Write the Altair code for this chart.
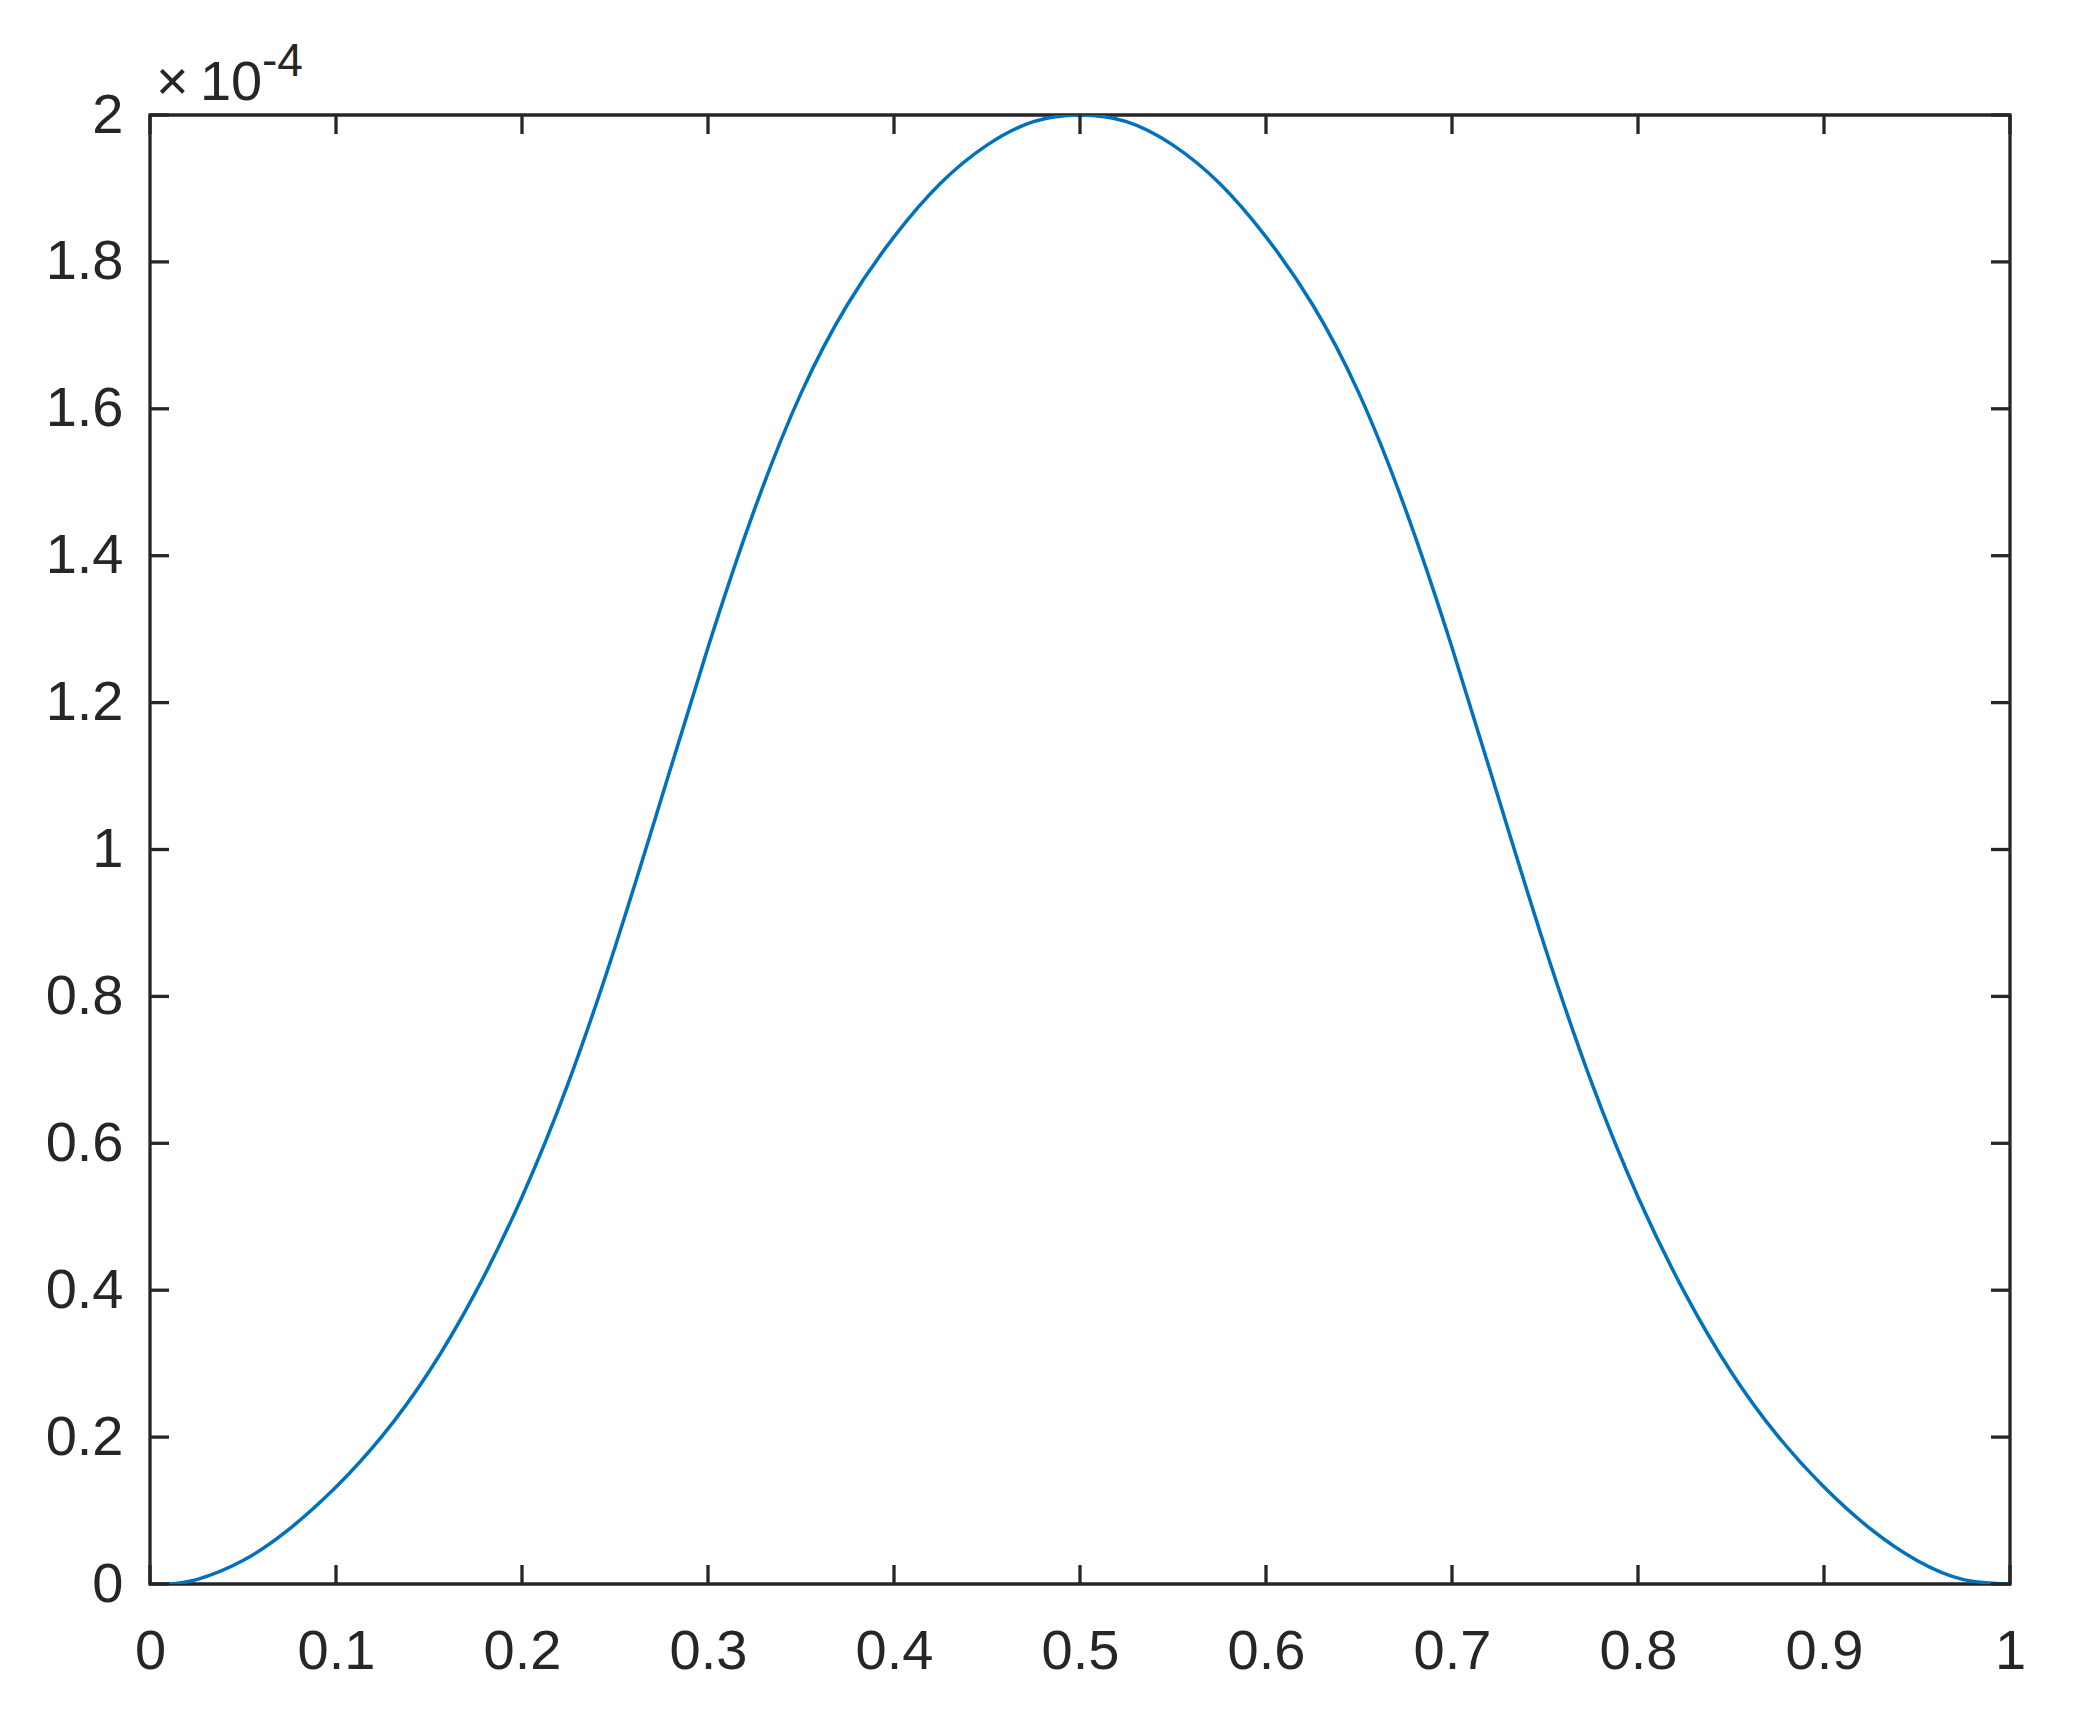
import altair as alt
import pandas as pd

# curve values (y in units of 1e-4)
x_vals = [0.01, 0.025, 0.05, 0.075, 0.1, 0.125, 0.15, 0.175, 0.2, 0.225, 0.25,
          0.275, 0.3, 0.325, 0.35, 0.375, 0.4, 0.425, 0.45, 0.475, 0.5,
          0.525, 0.55, 0.575, 0.6, 0.625, 0.65, 0.675, 0.7, 0.725, 0.75,
          0.775, 0.8, 0.825, 0.85, 0.875, 0.9, 0.925, 0.95, 0.975, 1.0]
y_vals = [0.0, 0.006, 0.032, 0.075, 0.132, 0.202, 0.289, 0.397, 0.527, 0.683, 0.867,
          1.070, 1.275, 1.463, 1.621, 1.742, 1.834, 1.907, 1.959, 1.991, 2.0,
          1.991, 1.959, 1.907, 1.834, 1.742, 1.621, 1.463, 1.275, 1.070, 0.867,
          0.683, 0.527, 0.397, 0.289, 0.202, 0.132, 0.075, 0.032, 0.006, 0.0]

x_ticks = [0, 0.1, 0.2, 0.3, 0.4, 0.5, 0.6, 0.7, 0.8, 0.9, 1]
y_ticks = [0, 0.2, 0.4, 0.6, 0.8, 1, 1.2, 1.4, 1.6, 1.8, 2]

W, H = 1860, 1469
TICK = 19
AX = "#262626"
FONT = "Liberation Sans"

df = pd.DataFrame({"x": x_vals, "y": y_vals})
dfx = pd.DataFrame({"x": x_ticks})
dfy = pd.DataFrame({"y": y_ticks})

xscale = alt.Scale(domain=[0, 1], nice=False, zero=False)
yscale = alt.Scale(domain=[0, 2], nice=False, zero=False)

xaxis = alt.Axis(values=x_ticks, format="~g", title=None, grid=False, domain=False,
                 ticks=False, labelFont=FONT, labelFontSize=56, labelColor=AX,
                 labelPadding=40, labelFlush=False)
yaxis = alt.Axis(values=y_ticks, format="~g", title=None, grid=False, domain=False,
                 ticks=False, labelFont=FONT, labelFontSize=56, labelColor=AX,
                 labelPadding=27, labelBaseline="middle")

line = alt.Chart(df).mark_line(color="#0072BD", strokeWidth=3.5, interpolate="natural",
                               clip=True).encode(
    x=alt.X("x:Q", scale=xscale, axis=xaxis),
    y=alt.Y("y:Q", scale=yscale, axis=yaxis),
)

tick_style = dict(color=AX, strokeWidth=3.3)
xt_bottom = alt.Chart(dfx).mark_rule(**tick_style).encode(
    x=alt.X("x:Q", scale=xscale), y=alt.value(H), y2=alt.value(H - TICK))
xt_top = alt.Chart(dfx).mark_rule(**tick_style).encode(
    x=alt.X("x:Q", scale=xscale), y=alt.value(0), y2=alt.value(TICK))
yt_left = alt.Chart(dfy).mark_rule(**tick_style).encode(
    y=alt.Y("y:Q", scale=yscale), x=alt.value(0), x2=alt.value(TICK))
yt_right = alt.Chart(dfy).mark_rule(**tick_style).encode(
    y=alt.Y("y:Q", scale=yscale), x=alt.value(W), x2=alt.value(W - TICK))

mult = alt.Chart(pd.DataFrame({"t": ["×\u200910"]})).mark_text(
    font=FONT, fontSize=56, color=AX, align="left", baseline="alphabetic").encode(
    text="t:N", x=alt.value(6), y=alt.value(-15))
expo = alt.Chart(pd.DataFrame({"t": ["-4"]})).mark_text(
    font=FONT, fontSize=46, color=AX, align="left", baseline="alphabetic").encode(
    text="t:N", x=alt.value(112), y=alt.value(-39))

chart = alt.layer(line, xt_bottom, xt_top, yt_left, yt_right, mult, expo).properties(
    width=W, height=H,
    autosize=alt.AutoSizeParams(type="none"),
    padding={"left": 142, "top": 107, "right": 55, "bottom": 120},
    background="white",
).configure_view(stroke=AX, strokeWidth=3.3)

chart.save("out.html", embed_options={"renderer": "svg", "actions": False})
